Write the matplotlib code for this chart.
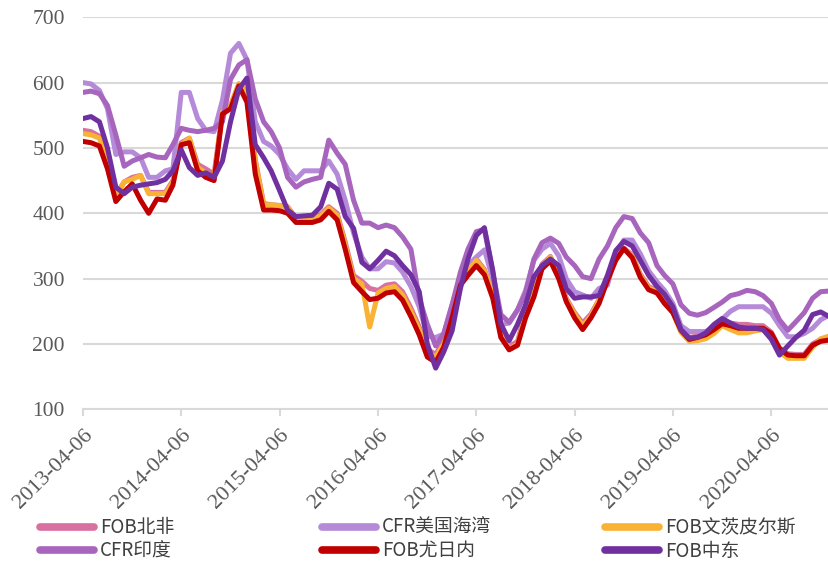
import matplotlib
matplotlib.use("Agg")
import matplotlib.pyplot as plt
import pandas as pd

# Monthly sample dates (first one 2013-04-06)
start_date = "2013-04-06"
n_points = 92
dates = pd.date_range(start_date, periods=n_points, freq=pd.DateOffset(months=1))

fob_north_africa = [527, 525, 518, 480, 428, 448, 455, 458, 432, 432, 432, 450,
                    508, 515, 475, 468, 460, 555, 565, 598, 585, 482, 415, 413,
                    412, 410, 393, 393, 393, 398, 410, 400, 356, 305, 296, 285,
                    282, 290, 292, 280, 255, 226, 192, 184, 205, 252, 302, 318,
                    330, 314, 278, 222, 196, 204, 250, 282, 322, 334, 306, 270,
                    248, 232, 246, 268, 302, 334, 347, 336, 307, 288, 282, 266,
                    250, 222, 210, 212, 215, 222, 233, 232, 230, 230, 228, 228,
                    218, 194, 185, 184, 184, 200, 207, 209]
cfr_us_gulf = [600, 598, 588, 560, 490, 494, 494, 485, 455, 455, 465, 468,
               585, 585, 545, 527, 525, 573, 645, 660, 635, 540, 510, 503,
               490, 468, 452, 465, 465, 465, 480, 460, 420, 370, 333, 315,
               315, 326, 324, 310, 288, 257, 212, 210, 215, 260, 300, 320,
               333, 344, 300, 230, 232, 252, 282, 328, 345, 354, 335, 300,
               280, 275, 270, 285, 290, 338, 359, 359, 338, 312, 295, 282,
               262, 228, 219, 219, 219, 225, 238, 250, 257, 257, 257, 257,
               247, 228, 211, 211, 216, 224, 237, 244]
fob_ventspils = [522, 520, 515, 478, 425, 448, 452, 458, 430, 430, 430, 448,
                 505, 515, 470, 462, 455, 555, 565, 598, 585, 480, 413, 413,
                 412, 410, 392, 392, 392, 396, 408, 397, 352, 300, 292, 226,
                 278, 285, 288, 275, 250, 222, 188, 180, 200, 245, 295, 312,
                 328, 312, 276, 220, 192, 200, 245, 278, 320, 333, 305, 268,
                 246, 228, 243, 268, 302, 333, 345, 335, 305, 286, 280, 264,
                 248, 218, 204, 205, 208, 216, 228, 222, 217, 217, 220, 222,
                 212, 188, 178, 178, 178, 195, 208, 212]
cfr_india = [585, 587, 583, 565, 520, 472, 480, 485, 490, 486, 485, 505,
             530, 527, 525, 527, 530, 540, 605, 627, 635, 575, 540, 525,
             500, 455, 440, 448, 452, 455, 512, 492, 475, 420, 385, 385,
             378, 382, 378, 364, 345, 270, 230, 197, 216, 260, 310, 345,
             372, 375, 310, 245, 233, 252, 278, 330, 355, 362, 354, 333,
             320, 303, 300, 330, 350, 378, 395, 392, 370, 355, 320, 305,
             292, 260, 247, 244, 248, 256, 264, 274, 277, 282, 280, 274,
             262, 237, 221, 234, 248, 270, 280, 281]
fob_yuzhny = [510, 508, 503, 468, 418, 433, 445, 420, 400, 422, 420, 443,
              505, 508, 465, 455, 450, 552, 560, 595, 570, 460, 405, 405,
              404, 400, 386, 386, 386, 390, 403, 390, 345, 294, 280, 268,
              270, 278, 280, 267, 242, 214, 180, 172, 195, 240, 290, 305,
              320, 306, 270, 210, 191, 198, 240, 272, 315, 327, 300, 265,
              240, 222, 240, 262, 297, 328, 346, 332, 302, 283, 278, 262,
              248, 221, 207, 210, 214, 222, 231, 228, 224, 224, 224, 224,
              216, 193, 183, 182, 182, 198, 204, 206]
fob_middle_east = [545, 548, 540, 500, 440, 430, 440, 443, 445, 447, 452, 465,
                   497, 470, 458, 462, 455, 480, 540, 590, 607, 505, 485, 465,
                   435, 405, 395, 396, 397, 410, 446, 437, 395, 377, 325, 315,
                   328, 342, 335, 320, 306, 280, 200, 163, 188, 220, 285, 330,
                   366, 378, 313, 231, 205, 230, 260, 303, 320, 330, 320, 285,
                   270, 272, 272, 274, 305, 343, 357, 350, 328, 305, 288, 276,
                   257, 222, 209, 210, 217, 230, 239, 232, 226, 224, 224, 222,
                   207, 183, 197, 210, 221, 245, 249, 242]

series_names = ["FOB北非", "CFR美国海湾", "FOB文茨皮尔斯", "CFR印度", "FOB尤日内", "FOB中东"]
series_values = [fob_north_africa, cfr_us_gulf, fob_ventspils, cfr_india, fob_yuzhny, fob_middle_east]
series_colors = ["#D870A0", "#B58AD8", "#F9B233", "#A865BE", "#C00000", "#7030A0"]

tick_dates = ["2013-04-06", "2014-04-06", "2015-04-06", "2016-04-06",
              "2017-04-06", "2018-04-06", "2019-04-06", "2020-04-06"]
y_ticks = [100, 200, 300, 400, 500, 600, 700]

plt.rcParams['font.family'] = ['Liberation Serif', 'Noto Sans CJK SC']

fig = plt.figure(figsize=(8.29, 5.61), dpi=100)
ax = fig.add_axes([0.1001, 0.2704, 0.8999, 0.6988])

lines = []
for name, vals, col in zip(series_names, series_values, series_colors):
    ln, = ax.plot(dates, vals, color=col, linewidth=3.6, label=name,
                  solid_joinstyle='round', solid_capstyle='round')
    lines.append(ln)

ax.set_ylim(100, 700)
ax.set_yticks(y_ticks)
ax.set_xlim(dates[0], dates[-1])
tick_pos = pd.to_datetime(tick_dates)
ax.set_xticks(tick_pos)
ax.set_xticklabels(tick_dates, rotation=45, ha='right', rotation_mode='anchor',
                   fontsize=16, color='#595959')
for lab in ax.get_yticklabels():
    lab.set_fontsize(15.5)
    lab.set_color('#595959')

ax.grid(axis='y', color='#D9D9D9', linewidth=1.5)
ax.set_axisbelow(True)
for s in ['top', 'right', 'left']:
    ax.spines[s].set_visible(False)
ax.spines['bottom'].set_color('#D9D9D9')
ax.spines['bottom'].set_linewidth(1.5)
ax.tick_params(axis='y', length=0, pad=13)
ax.tick_params(axis='x', length=5, width=1.5, color='#D9D9D9', pad=7)

# legend: three columns, two rows each
col_x = [40 / 829, 322 / 829, 605 / 829]
col_items = [[0, 3], [1, 4], [2, 5]]
for cx, items in zip(col_x, col_items):
    leg = fig.legend([lines[i] for i in items], [series_names[i] for i in items],
                     loc='center left', bbox_to_anchor=(cx, 1 - 539.5 / 561),
                     frameon=False, handlelength=2.9, handletextpad=0.3,
                     borderpad=0, borderaxespad=0, labelspacing=0.15,
                     prop={'family': ['Noto Sans CJK SC'], 'size': 13.5})
    for t in leg.get_texts():
        t.set_color('#404040')
    for h in leg.legend_handles:
        h.set_linewidth(5.5)

fig.savefig("out.png", dpi=100)
